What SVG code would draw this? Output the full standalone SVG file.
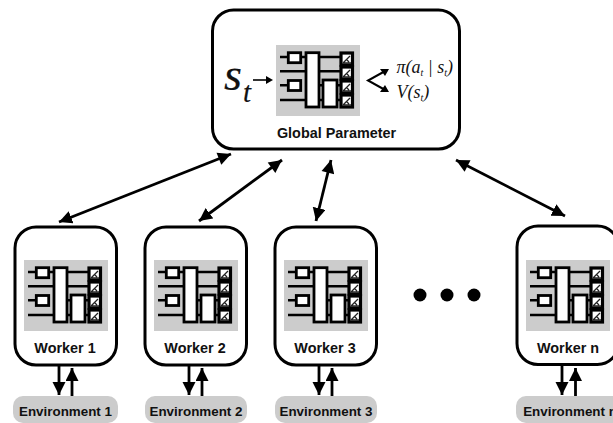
<svg xmlns="http://www.w3.org/2000/svg" width="613" height="423" viewBox="0 0 613 423">
<style>
text{font-family:"Liberation Sans",Arial,sans-serif;fill:#111}
.lbl{font-weight:700;font-size:14.4px;text-anchor:middle}
.env{font-weight:700;font-size:13.4px;text-anchor:middle}
.box{fill:#fff;stroke:#000;stroke-width:3}
.envbox{fill:#ccc}
.arr{fill:none;stroke:#000;stroke-width:2.8;marker-end:url(#ah)}
.dbl{marker-start:url(#ahs)}
.math{font-family:"Liberation Serif",serif;font-style:italic}
.n{fill:none;stroke:#000;stroke-width:2.4}
.nb{fill:#fff;stroke:#000;stroke-width:2.8}
.nc{fill:#fff;stroke:#000;stroke-width:3.2}
.nm{fill:none;stroke:#222;stroke-width:1.300}
</style>
<defs>
<marker id="ah" markerUnits="userSpaceOnUse" markerWidth="15" markerHeight="14" refX="13" refY="6.500" orient="auto"><path d="M0 0L13 6.500L0 13Z" fill="#000"/></marker>
<marker id="ahs" markerUnits="userSpaceOnUse" markerWidth="15" markerHeight="14" refX="0" refY="6.500" orient="auto"><path d="M13 0L0 6.500L13 13Z" fill="#000"/></marker>
<g id="net">
<rect width="84" height="71" fill="#ccc"/>
<path class="n" d="M4 12H12M25 12H64M4 26.300H30M43 26.300H64M4 40.300H12M43 40.300H47M61 40.300H64M4 55H30M43 55H47M61 55H64"/>
<rect class="nb" x="12.300" y="7.700" width="12.400" height="10"/>
<rect class="nb" x="12.300" y="35.500" width="12.400" height="10"/>
<rect class="nb" x="30" y="7.700" width="13" height="54.300"/>
<rect class="nb" x="47" y="35" width="14" height="27"/>
<rect class="nc" x="65" y="8" width="11.500" height="12"/>
<rect class="nc" x="65" y="22" width="11.500" height="12"/>
<rect class="nc" x="65" y="36" width="11.500" height="12"/>
<rect class="nc" x="65" y="50" width="11.500" height="12"/>
<path class="nm" d="M67 18L74 11M67 18H75M71 15L73 17M67 32L74 25M67 32H75M71 29L73 31M67 46L74 39M67 46H75M71 43L73 45M67 60L74 53M67 60H75M71 57L73 59"/>
</g>
</defs>
<g id="connectors">
<path class="arr dbl" d="M231 154L59 222"/>
<path class="arr dbl" d="M282 160L199 221"/>
<path class="arr dbl" d="M331 160L316 221"/>
<path class="arr dbl" d="M456 160L565 216"/>
<path class="arr" d="M59 365V395"/>
<path class="arr" d="M72 396V368"/>
<path class="arr" d="M189 365V395"/>
<path class="arr" d="M202 396V368"/>
<path class="arr" d="M319 365V395"/>
<path class="arr" d="M332 396V368"/>
<path class="arr" d="M562 365V395"/>
<path class="arr" d="M575.500 396V368"/>
</g>
<g id="global">
<rect class="box" x="212.500" y="10" width="247" height="139" rx="21"/>
<use href="#net" x="276" y="45"/>
<text class="math" font-size="46" x="224" y="90" stroke="#111" stroke-width="0.200">s</text>
<text class="math" font-size="29" x="243" y="102" stroke="#111" stroke-width="0.200">t</text>
<path d="M253 80H267" stroke="#000" stroke-width="1.600" fill="none"/>
<path d="M266 76L273 80L266 84Z" fill="#000"/>
<path d="M387 70L368 80.500L387 91" stroke="#000" stroke-width="2" fill="none"/>
<path d="M380 69L389 69L385 76Z M380 92L389 92L385 85Z" fill="#000"/>
<text class="math" font-size="18" x="396.500" y="73">π(a<tspan font-size="10" dy="3">t</tspan><tspan dy="-3"> | s</tspan><tspan font-size="10" dy="3">t</tspan><tspan dy="-3">)</tspan></text>
<text class="math" font-size="18" x="396.500" y="98">V(s<tspan font-size="10" dy="3">t</tspan><tspan dy="-3">)</tspan></text>
<text class="lbl" x="336.500" y="138">Global Parameter</text>
</g>
<g id="worker1"><rect class="box" x="15" y="227" width="101.500" height="138" rx="21"/><use href="#net" x="24" y="260"/><text class="lbl" x="65" y="352.500">Worker 1</text></g>
<g id="worker2"><rect class="box" x="145" y="227" width="101.500" height="138" rx="21"/><use href="#net" x="154" y="260"/><text class="lbl" x="195" y="352.500">Worker 2</text></g>
<g id="worker3"><rect class="box" x="275" y="227" width="101.500" height="138" rx="21"/><use href="#net" x="284" y="260"/><text class="lbl" x="325" y="352.500">Worker 3</text></g>
<g id="workern"><rect class="box" x="517" y="226" width="101.500" height="138.500" rx="21"/><use href="#net" x="526" y="260"/><text class="lbl" x="568" y="352.500">Worker n</text></g>
<g id="env1"><rect class="envbox" x="13" y="396" width="105" height="27" rx="10"/><text class="env" x="65.500" y="416">Environment 1</text></g>
<g id="env2"><rect class="envbox" x="145" y="396" width="102" height="27" rx="10"/><text class="env" x="196" y="416">Environment 2</text></g>
<g id="env3"><rect class="envbox" x="275" y="396" width="102" height="27" rx="10"/><text class="env" x="326" y="416">Environment 3</text></g>
<g id="envn"><rect class="envbox" x="516" y="396" width="110" height="27" rx="10"/><text class="env" x="570" y="416">Environment n</text></g>
<g id="dots" fill="#000"><circle cx="420" cy="295" r="6.500"/><circle cx="447" cy="295" r="6.500"/><circle cx="474" cy="295" r="6.500"/></g>
</svg>
